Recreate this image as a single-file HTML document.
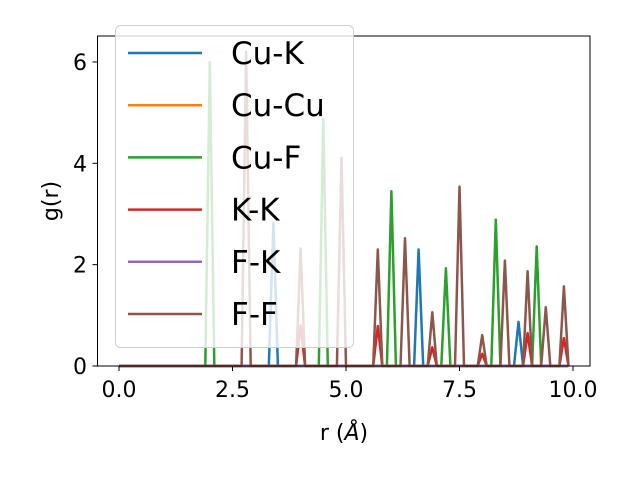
<!DOCTYPE html>
<html><head><meta charset="utf-8"><style>
body{margin:0;background:#fff}
svg{display:block;font-family:"DejaVu Sans","Liberation Sans",sans-serif}
</style></head><body>
<svg id="chart" width="640" height="480" viewBox="0 0 640 480">
<rect width="640" height="480" fill="#fff"/>
<g id="lines"></g>
<g id="axes"></g>
<g id="legend"></g>
</svg>
<script>
const seriesNames = ["Cu-K","Cu-Cu","Cu-F","K-K","F-K","F-F"];
const seriesColors = ["#1f77b4","#ff7f0e","#2ca02c","#d62728","#9467bd","#8c564b"];
const cuKPeakR = [3.4, 6.6, 8.8];
const cuKPeakH = [2.83, 2.3, 0.87];
const cuCuPeakR = [];
const cuCuPeakH = [];
const cuFPeakR = [2.0, 4.5, 6.0, 7.2, 8.3, 9.2];
const cuFPeakH = [6.0, 4.88, 3.45, 1.93, 2.89, 2.36];
const kkPeakR = [4.0, 5.7, 6.9, 8.0, 9.0, 9.8];
const kkPeakH = [0.8, 0.79, 0.37, 0.24, 0.65, 0.55];
const fkPeakR = [];
const fkPeakH = [];
const ffPeakR = [2.8, 4.0, 4.9, 5.7, 6.3, 6.9, 7.5, 8.0, 8.5, 9.0, 9.4, 9.8];
const ffPeakH = [6.2, 2.32, 4.11, 2.3, 2.52, 1.06, 3.54, 0.61, 2.08, 1.87, 1.16, 1.57];
const xTicks = [0, 2.5, 5, 7.5, 10];
const xTickLabels = ["0.0","2.5","5.0","7.5","10.0"];
const yTicks = [0, 2, 4, 6];
const yTickLabels = ["0","2","4","6"];
const rMax = 9.9, rStep = 0.1;

const NS = "http://www.w3.org/2000/svg";
const L = 97.5, R = 590, T = 36, B = 366;
const xS = r => 119 + r * 45.4;
const yS = v => 366 - v * 50.67;
function mk(tag, attrs, parent){const e=document.createElementNS(NS,tag);for(const k in attrs)e.setAttribute(k,attrs[k]);parent.appendChild(e);return e;}

const peaks = [[cuKPeakR,cuKPeakH],[cuCuPeakR,cuCuPeakH],[cuFPeakR,cuFPeakH],[kkPeakR,kkPeakH],[fkPeakR,fkPeakH],[ffPeakR,ffPeakH]];
const lines = document.getElementById("lines");
const n = Math.round(rMax / rStep);
peaks.forEach((p, si) => {
  const vals = new Array(n + 1).fill(0);
  p[0].forEach((r, i) => { const k = Math.round(r / rStep); if (k >= 0 && k <= n) vals[k] = p[1][i]; });
  let d = "";
  vals.forEach((v, k) => { d += (k ? "L" : "M") + xS(k * rStep).toFixed(1) + "," + yS(v).toFixed(1); });
  const path = mk("path", {d: d, fill: "none", stroke: seriesColors[si], "stroke-width": 2.5, "stroke-linejoin": "round"}, lines);
  
  
});

const axes = document.getElementById("axes");
const frame = mk("rect", {x: L, y: T, width: R - L, height: B - T, fill: "none", stroke: "#000", "stroke-width": 1}, axes);


xTicks.forEach((t, i) => {
  const x = xS(t);
  const tk = mk("line", {x1: x, x2: x, y1: B, y2: B + 5, stroke: "#000"}, axes);
  
  
  const tx = mk("text", {x: x, y: 397, "font-size": 22, "text-anchor": "middle", fill: "#000"}, axes);
  tx.textContent = xTickLabels[i];
  
  
});
yTicks.forEach((t, i) => {
  const y = yS(t);
  const tk = mk("line", {x1: L - 5, x2: L, y1: y, y2: y, stroke: "#000"}, axes);
  
  
  const tx = mk("text", {x: 87, y: y + 8, "font-size": 22, "text-anchor": "end", fill: "#000"}, axes);
  tx.textContent = yTickLabels[i];
  
  
});
const xl = mk("text", {x: 344, y: 440, "font-size": 22, "text-anchor": "middle", fill: "#000"}, axes);
xl.innerHTML = 'r (<tspan font-style="italic">Å</tspan>)';


const yl = mk("text", {x: 0, y: 0, "font-size": 22, "text-anchor": "middle", fill: "#000", transform: "translate(58,201) rotate(-90)"}, axes);
yl.textContent = "g(r)";



const lg = document.getElementById("legend");
const box = mk("rect", {x: 115.5, y: 25.5, width: 238, height: 322, rx: 5, fill: "rgba(255,255,255,0.8)", stroke: "#d0d0d0", "stroke-width": 1}, lg);


seriesNames.forEach((nm, i) => {
  const y = 53 + i * 52.2;
  const g = mk("g", {}, lg);
  
  
  mk("line", {x1: 128, x2: 202, y1: y, y2: y, stroke: seriesColors[i], "stroke-width": 2.5}, g);
  const t = mk("text", {x: 231, y: y + 11, "font-size": 31, fill: "#000"}, g);
  t.textContent = nm;
});
</script>
</body></html>
